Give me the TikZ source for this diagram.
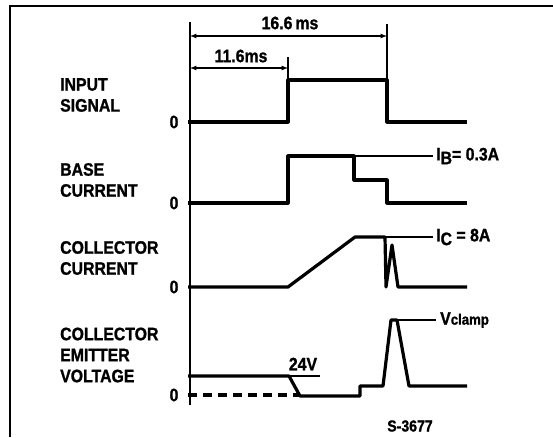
\documentclass[tikz,border=0pt]{standalone}
\usepackage{fontspec}
\setmainfont{Liberation Sans}[FakeStretch=0.88, BoldFeatures={FakeBold=1.2}]
\usetikzlibrary{positioning}
\usetikzlibrary{arrows}

\tikzset{
  wave/.style={line width=3.2pt, line join=round},
  guide/.style={line width=1.2pt},
  axisline/.style={line width=1.8pt},
  txt/.style={font=\bfseries\fontsize{18}{21}\selectfont, inner sep=0pt},
  sigtxt/.style={txt, align=left, anchor=west},
  dim/.style={guide, <->, >=latex},
}

\begin{document}
\begin{tikzpicture}[x=1pt,y=-1pt]
\useasboundingbox (0,0) rectangle (553,437);
% frame
\draw[axisline] (10,437) -- (10,6) -- (553,6);

% time axis and marks
\coordinate (top) at (190,22);
\coordinate (bot) at (190,405);
\draw[axisline] (top) -- (bot);
\coordinate (m1) at (288,57);
\coordinate (m1b) at (288,80);
\coordinate (m2) at (387,24);
\coordinate (m2b) at (387,80);
\draw[guide] (m1) -- (m1b);
\draw[guide] (m2) -- (m2b);

\coordinate (a1) at (190,68);
\coordinate (b1) at (288,68);
\coordinate (a2) at (190,36);
\coordinate (b2) at (387,36);
\draw[dim] (a1) -- (b1);
\draw[dim] (a2) -- (b2);
\node[txt] (t166) at (290,23) {16.6\hspace{3pt}ms};
\node[txt] (t116) at (241,56) {11.6ms};

% signal names
\node[sigtxt] (insig) at (60,95) {INPUT\\SIGNAL};
\node[sigtxt] (ibase) at (60,180) {BASE\\CURRENT};
\node[sigtxt] (icoll) at (60,258) {COLLECTOR\\CURRENT};
\node[sigtxt] (vce) at (60,355) {COLLECTOR\\EMITTER\\VOLTAGE};

\node[txt] (z1) at (174,122) {0};
\node[txt] (z2) at (174,203) {0};
\node[txt] (z3) at (174,287) {0};
\node[txt] (z4) at (174,395) {0};

% input signal
\draw[wave] (188,122) -- (288,122) -- (288,80) -- (387,80) -- (387,122) -- (467,122);

% base current
\draw[wave] (188,203) -- (288,203) -- (288,156) -- (354,156) -- (354,180)
  -- (387,180) -- (387,203) -- (467,203);
\coordinate (ib0) at (354,156);
\coordinate (ib1) at (433,156);
\draw[guide] (ib0) -- (ib1);
\node[txt, anchor=west] (ibl) [right=3pt of ib1] {I\raisebox{-0.4ex}{B}= 0.3A};

% collector current
\draw[wave] (188,287) -- (288,287) -- (355,237) -- (385,237) -- (386,287)
  -- (392,245) -- (398,287) -- (467,287);
\coordinate (ic0) at (385,237);
\coordinate (ic1) at (433,237);
\draw[guide] (ic0) -- (ic1);
\node[txt, anchor=west] (icl) [right=3pt of ic1] {I\raisebox{-0.4ex}{C} = 8A};

% collector emitter voltage
\draw[wave] (188,376) -- (289,376) -- (300,396) -- (360,396) -- (360,386)
  -- (383,386) -- (391,320) -- (397,320) -- (409,386) -- (467,386);
\draw[wave, dash pattern=on 9pt off 6pt] (188,395) -- (300,395);
\coordinate (v0) at (289,376);
\coordinate (v1) at (320,376);
\draw[guide] (v0) -- (v1);
\node[txt] (v24) at (303,364) {24V};
\coordinate (vc0) at (397,320);
\coordinate (vc1) at (436,320);
\draw[guide] (vc0) -- (vc1);
\node[txt, anchor=west] (vcl) [right=4pt of vc1] {V{\fontsize{15}{15}\selectfont clamp}};

\node[txt, font=\bfseries\fontsize{16}{16}\selectfont] (fig) at (410,426) {S-3677};
\end{tikzpicture}
\end{document}
